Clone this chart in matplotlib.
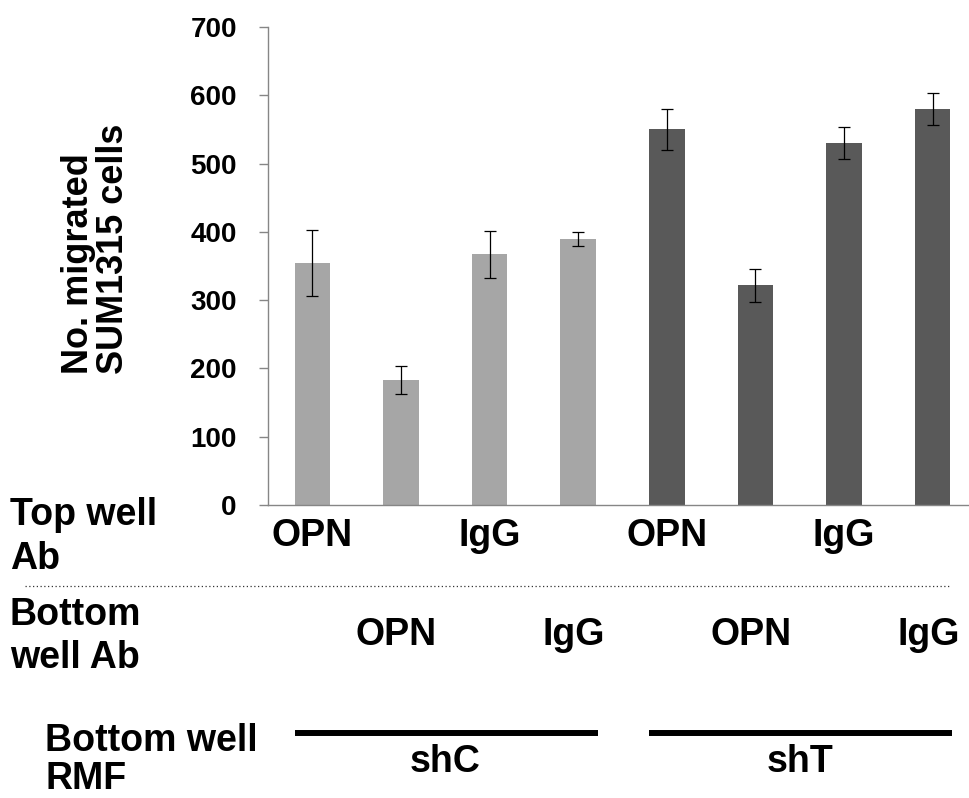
import matplotlib
matplotlib.use("Agg")
import matplotlib.pyplot as plt
import matplotlib.transforms as mtransforms
import numpy as np

plt.rcParams["font.family"] = ["Liberation Sans", "DejaVu Sans"]
plt.rcParams["font.weight"] = "bold"

# Migration counts per condition (mean and error)
values = [354, 183, 367, 390, 550, 322, 530, 580]
errors = [48, 21, 34, 10, 30, 24, 24, 24]
rmf_groups = ["shC", "shT"]
group_colors = ["#a6a6a6", "#595959"]
top_well_ab = ["OPN", "IgG", "OPN", "IgG"]      # under bars 0, 2, 4, 6
bottom_well_ab = ["OPN", "IgG", "OPN", "IgG"]   # under bars 1, 3, 5, 7
yticks = [0, 100, 200, 300, 400, 500, 600, 700]

W, H = 969, 798
fig = plt.figure(figsize=(W / 100, H / 100), dpi=100)


def fx(px):
    return px / W


def fy(py):
    return 1 - py / H


# axes frame: x from 268px (extends a little past the right edge), y 0 at 505px, 700 at 27px
ax = fig.add_axes([fx(268), fy(505), 709 / W, 478 / H])

x = np.arange(len(values))
colors = [group_colors[i // 4] for i in x]
ax.bar(x, values, width=0.4, color=colors, zorder=2)
ax.errorbar(x, values, yerr=errors, fmt="none", ecolor="black",
            elinewidth=0.9, capsize=4.3, capthick=0.9, zorder=3)

ax.set_xlim(-0.5, 7.5)
ax.set_ylim(0, 700)
ax.set_yticks(yticks)
ax.set_yticklabels([str(t) for t in yticks], fontsize=20, fontweight="bold")
ax.set_xticks([])
for side in ["top", "right"]:
    ax.spines[side].set_visible(False)
for side in ["left", "bottom"]:
    ax.spines[side].set_color("#868686")
    ax.spines[side].set_linewidth(1.0)
ax.tick_params(axis="y", direction="out", length=6.5, width=1.0,
               color="#868686", pad=16)

# y axis title, two lines left-aligned
fig.text(fx(96), fy(249), "No. migrated\nSUM1315 cells", rotation=90,
         ha="center", va="center", multialignment="left",
         fontsize=26, fontweight="bold", linespacing=1.0)

trans = mtransforms.blended_transform_factory(ax.transData, fig.transFigure)
big = dict(fontsize=27, fontweight="bold")

# row 1: top well antibody
for i, lab in enumerate(top_well_ab):
    ax.text(2 * i, fy(546), lab, transform=trans, ha="center",
            va="baseline", clip_on=False, **big)
fig.text(fx(10), fy(525), "Top well", ha="left", va="baseline", **big)
fig.text(fx(10), fy(569), "Ab", ha="left", va="baseline", **big)

# dotted separator
fig.add_artist(plt.Line2D([fx(25), fx(950)], [fy(586), fy(586)],
                          transform=fig.transFigure, color="#333333",
                          lw=0.9, linestyle=(0, (1, 2))))

# row 2: bottom well antibody
for i, lab in enumerate(bottom_well_ab):
    ax.text(2 * i + 1 - 0.05, fy(645), lab, transform=trans, ha="center",
            va="baseline", clip_on=False, **big)
fig.text(fx(10), fy(625), "Bottom", ha="left", va="baseline", **big)
fig.text(fx(10), fy(668), "well Ab", ha="left", va="baseline", **big)

# row 3: bottom well RMF groups
for g, name in enumerate(rmf_groups):
    start, end = 4 * g, 4 * g + 3
    line = plt.Line2D([start - 0.2, end + 0.22], [fy(733), fy(733)],
                      transform=trans, color="black", lw=4.3,
                      solid_capstyle="butt", clip_on=False)
    ax.add_artist(line)
    ax.text((start + end) / 2, fy(772), name, transform=trans, ha="center",
            va="baseline", clip_on=False, **big)
fig.text(fx(45), fy(751), "Bottom well", ha="left", va="baseline", **big)
fig.text(fx(45), fy(789), "RMF", ha="left", va="baseline", **big)

fig.savefig("out.png", dpi=100)
